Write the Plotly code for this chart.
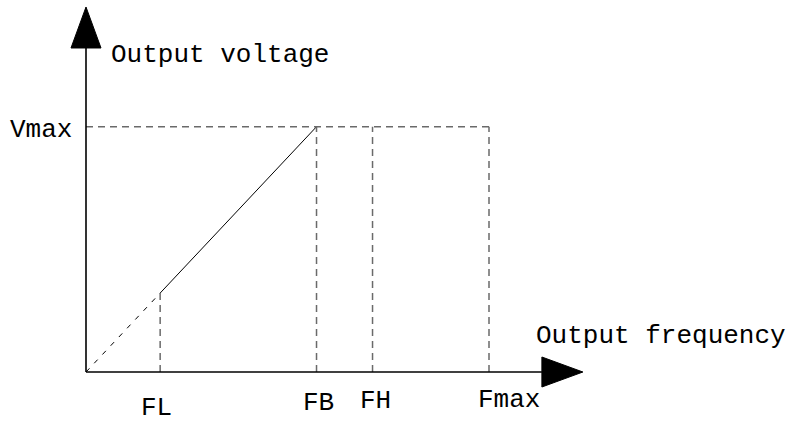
import plotly.graph_objects as go

# V/F curve break points (frequency as % of Fmax, voltage as % of Vmax)
freq_names = ["FL", "FB", "FH", "Fmax"]
freq_values = [18.4, 57.2, 71.1, 100.0]
v_max = 100.0
v_label = "Vmax"
x_title = "Output frequency"
y_title = "Output voltage"

FL, FB, FH, FMAX = freq_values
v_at_fl = v_max * FL / FB  # voltage reached on the linear ramp at FL

W, H = 792, 423
X0_PX, Y0_PX = 86, 372      # where the origin sits on the canvas
XS, YS = 4.03, 2.453        # pixels per unit on each axis
x_rng = [-X0_PX / XS, (W - X0_PX) / XS]
y_rng = [-(H - Y0_PX) / YS, Y0_PX / YS]

X_END, Y_END = 123.3, 148.8  # arrow tips of the two axes
ARROW_LEN, ARROW_HALF = 41, 15  # arrowhead size in px

FONT = dict(family="Liberation Mono, DejaVu Sans Mono, monospace", size=26, color="#000")
DASH_GREY = "#6a6a6a"

fig = go.Figure()

# ramp: dashed from origin to FL, solid from FL to FB
fig.add_trace(go.Scatter(x=[0, FL], y=[0, v_at_fl], mode="lines",
                         line=dict(color="#000", width=1, dash="5px,7px"), hoverinfo="skip"))
fig.add_trace(go.Scatter(x=[FL, FB], y=[v_at_fl, v_max], mode="lines",
                         line=dict(color="#000", width=1), hoverinfo="skip"))

# Vmax guide line
fig.add_trace(go.Scatter(x=[0, FMAX], y=[v_max, v_max], mode="lines",
                         line=dict(color=DASH_GREY, width=1.5, dash="7px,5px"), hoverinfo="skip"))
# vertical guides at each frequency
for f in freq_values:
    top = v_at_fl if f == FL else v_max
    fig.add_trace(go.Scatter(x=[f, f], y=[0, top], mode="lines",
                             line=dict(color=DASH_GREY, width=1.5, dash="7px,5px"), hoverinfo="skip"))

# axes
fig.add_trace(go.Scatter(x=[0, X_END - ARROW_LEN / XS], y=[0, 0], mode="lines",
                         line=dict(color="#000", width=1.6), hoverinfo="skip"))
fig.add_trace(go.Scatter(x=[0, 0], y=[0, Y_END - ARROW_LEN / YS], mode="lines",
                         line=dict(color="#000", width=1.6), hoverinfo="skip"))

shapes = []
bx = X_END - ARROW_LEN / XS
hy = ARROW_HALF / YS
shapes.append(dict(type="path", xref="x", yref="y",
                   path=f"M {bx},{-hy} L {X_END},0 L {bx},{hy} Z",
                   fillcolor="#000", line=dict(color="#000", width=1)))
by = Y_END - ARROW_LEN / YS
hx = ARROW_HALF / XS
shapes.append(dict(type="path", xref="x", yref="y",
                   path=f"M {-hx},{by} L 0,{Y_END} L {hx},{by} Z",
                   fillcolor="#000", line=dict(color="#000", width=1)))

annotations = []
# frequency labels under the axis
label_dx = {"FL": -4, "FB": 2, "FH": 3, "Fmax": 20}
label_dy = {"FL": -36, "FB": -31, "FH": -29, "Fmax": -28}
for name, f in zip(freq_names, freq_values):
    annotations.append(dict(x=f, y=0, xref="x", yref="y", text=name, showarrow=False,
                            xshift=label_dx[name], yshift=label_dy[name], font=FONT))
annotations.append(dict(x=0, y=v_max, xref="x", yref="y", text=v_label, showarrow=False,
                        xanchor="right", xshift=-12, yshift=-3, font=FONT))
annotations.append(dict(x=0, y=Y_END, xref="x", yref="y", text=y_title, showarrow=False,
                        xanchor="left", xshift=23, yshift=-48, font=FONT))
annotations.append(dict(x=X_END, y=0, xref="x", yref="y", text=x_title, showarrow=False,
                        xanchor="right", xshift=205, yshift=36, font=FONT))

fig.update_layout(
    width=W, height=H, margin=dict(l=0, r=0, t=0, b=0),
    paper_bgcolor="#fff", plot_bgcolor="#fff", showlegend=False,
    xaxis=dict(range=x_rng, visible=False, fixedrange=True),
    yaxis=dict(range=y_rng, visible=False, fixedrange=True),
    shapes=shapes, annotations=annotations,
)

fig.write_html("out.html")
